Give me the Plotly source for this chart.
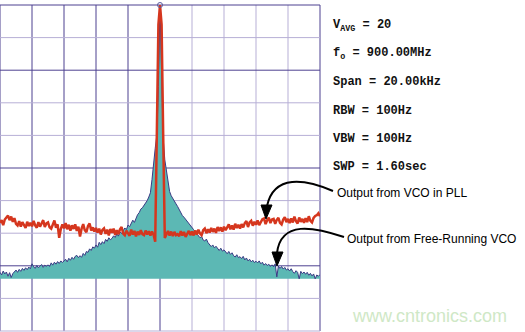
import plotly.graph_objects as go

# ---------------- data ----------------
# frequency offset from carrier (kHz), span 20 kHz, 0.1 kHz resolution
FREQ_START_KHZ = -10.0
FREQ_STEP_KHZ = 0.1
N_POINTS = 201
freq_khz = [round(FREQ_START_KHZ + i * FREQ_STEP_KHZ, 1) for i in range(N_POINTS)]

# Output from VCO in PLL (dB, relative to reference level)
pll_db = [
    -66.8, -66.0, -67.5, -65.8, -65.2, -64.6, -66.0, -64.9, -66.5, -65.4,
    -67.1, -67.6, -66.3, -68.0, -66.6, -67.4, -68.4, -66.5, -67.8, -66.8,
    -67.9, -66.2, -67.6, -68.3, -66.6, -68.0, -66.9, -66.0, -68.1, -67.0,
    -66.7, -68.2, -68.6, -67.0, -66.1, -68.3, -67.3, -71.4, -68.7, -67.3,
    -68.5, -66.9, -68.8, -67.4, -69.2, -67.6, -68.7, -67.3, -69.3, -68.0,
    -71.0, -68.6, -67.2, -69.1, -69.7, -67.8, -67.0, -69.2, -68.2, -69.5,
    -68.4, -69.8, -68.6, -70.4, -69.0, -68.5, -70.2, -68.9, -70.7, -68.7,
    -69.9, -68.6, -70.5, -69.1, -70.3, -68.8, -68.1, -70.1, -70.6, -69.2,
    -70.2, -70.8, -68.9, -70.4, -69.3, -71.0, -69.5, -70.5, -69.1, -70.3,
    -70.6, -69.2, -70.4, -69.4, -70.7, -69.5, -70.5, -72.6, -40.0, -6.0,
    0.0,
    -6.0, -40.0, -71.5, -70.4, -69.3, -70.7, -69.5, -70.9, -69.6, -70.6,
    -70.3, -70.9, -69.4, -70.7, -69.6, -71.1, -70.0, -69.3, -70.6, -69.5,
    -70.7, -69.2, -70.4, -68.9, -70.1, -70.6, -69.1, -68.6, -70.0, -68.8,
    -69.8, -68.4, -69.6, -68.6, -69.9, -68.1, -69.3, -68.2, -69.5, -68.0,
    -69.1, -67.9, -67.3, -68.8, -67.6, -68.9, -67.1, -68.4, -67.4, -68.6,
    -67.2, -68.2, -66.9, -66.3, -68.1, -66.7, -66.2, -67.7, -66.5, -67.4,
    -66.1, -67.5, -66.4, -65.7, -65.5, -67.2, -66.0, -65.2, -66.9, -65.8,
    -65.6, -67.1, -65.9, -65.3, -66.8, -67.3, -65.8, -65.1, -66.6, -65.6,
    -66.9, -65.5, -66.7, -64.9, -66.3, -67.0, -65.2, -66.5, -65.6, -66.8,
    -65.4, -66.6, -64.8, -66.2, -66.7, -65.3, -64.7, -64.5, -63.9, -64.8,
]

# Output from free-running VCO (dB)
free_db = [
    -82.0, -82.8, -81.6, -82.5, -81.9, -83.2, -82.1, -83.6, -82.4, -81.8,
    -81.3, -82.0, -81.1, -81.7, -80.8, -81.4, -80.6, -81.2, -80.4, -80.9,
    -79.4, -80.3, -80.8, -79.9, -80.6, -80.1, -79.6, -80.5, -79.8, -80.2,
    -79.7, -80.2, -79.1, -79.8, -78.9, -79.5, -78.7, -79.3, -78.5, -79.0,
    -78.6, -78.0, -78.8, -77.7, -78.3, -77.4, -78.0, -77.1, -76.8, -77.5,
    -76.9, -77.4, -76.2, -76.8, -75.6, -75.9, -74.8, -75.3, -74.2, -74.6,
    -73.6, -74.3, -72.8, -73.5, -72.6, -73.2, -71.9, -72.5, -71.4, -72.0,
    -71.6, -70.8, -71.3, -70.2, -70.9, -69.6, -70.1, -69.0, -68.4, -68.9,
    -67.5, -68.0, -66.8, -66.0, -66.7, -65.2, -64.3, -63.7, -62.6, -62.2,
    -61.4, -61.0, -60.0, -58.9, -57.6, -53.5, -47.5, -44.0, -40.0, -25.0,
    0.0,
    -25.0, -41.0, -47.5, -51.0, -55.0, -57.2, -58.5, -59.5, -60.5, -61.0,
    -61.8, -62.9, -63.5, -64.6, -65.1, -65.8, -66.3, -67.2, -67.6, -68.2,
    -68.9, -69.5, -70.2, -70.6, -71.4, -71.0, -72.1, -72.4, -71.8, -72.9,
    -73.4, -74.1, -73.6, -74.5, -74.0, -74.8, -75.3, -74.6, -75.5, -75.1,
    -75.8, -76.3, -75.6, -76.5, -76.0, -76.9, -77.3, -76.6, -77.5, -77.2,
    -77.8, -77.1, -78.2, -77.6, -78.5, -78.0, -78.8, -78.3, -79.0, -78.6,
    -79.1, -78.5, -79.4, -78.9, -79.8, -79.3, -79.9, -79.5, -80.2, -79.7,
    -80.3, -79.4, -83.4, -80.1, -80.8, -80.2, -81.0, -80.5, -81.3, -80.9,
    -81.6, -80.9, -81.8, -82.3, -81.5, -82.0, -84.0, -81.7, -82.4, -81.9,
    -82.6, -82.0, -82.9, -82.3, -83.1, -82.5, -84.0, -82.8, -83.2, -82.7,
]

FLOOR_DB = -84.0
floor_db = [FLOOR_DB] * N_POINTS

settings_lines = [
    "V<sub>AVG</sub> = 20",
    "f<sub>o</sub> = 900.00MHz",
    "Span = 20.00kHz",
    "RBW = 100Hz",
    "VBW = 100Hz",
    "SWP = 1.60sec",
]
label_pll = "Output from VCO in PLL"
label_free = "Output from Free-Running VCO"
watermark = "www.cntronics.com"

# ---------------- layout geometry ----------------
W, H = 525, 332
ML, MR, MT, MB = 0, 205, 5, 1
PW, PH = W - ML - MR, H - MT - MB


def px(x):
    return (x - ML) / PW


def py(y):
    return 1 - (y - MT) / PH


def path(cmds):
    out = []
    for c in cmds:
        if isinstance(c, str):
            out.append(c)
        else:
            out.append(f"{px(c[0]):.5f},{py(c[1]):.5f}")
    return " ".join(out)


fig = go.Figure()

fig.add_trace(go.Scatter(
    x=freq_khz, y=floor_db, mode="lines",
    line=dict(width=0, color="rgba(0,0,0,0)"),
    hoverinfo="skip", showlegend=False,
))
fig.add_trace(go.Scatter(
    x=freq_khz, y=free_db, mode="lines",
    fill="tonexty", fillcolor="#5cb8b4",
    line=dict(color="#3a3a84", width=1),
    showlegend=False,
))
fig.add_trace(go.Scatter(
    x=freq_khz, y=pll_db, mode="lines",
    line=dict(color="#d5361e", width=2.5),
    showlegend=False,
))
peak_i = pll_db.index(max(pll_db))
fig.add_trace(go.Scatter(
    x=[freq_khz[peak_i]], y=[pll_db[peak_i]], mode="markers",
    marker=dict(symbol="circle-open", size=5, color="#5a5a9e", line=dict(width=1)),
    showlegend=False, cliponaxis=False,
))

# grid (10 x 10 divisions), dark and light lines as in the reference
DARK = "#4d4190"
LIGHT = "#b7afd6"
v_dark = {0, 1, 2, 3, 4, 5, 10}
h_dark = {0, 2, 5, 8}
shapes = []
for i in range(11):
    shapes.append(dict(type="line", xref="paper", yref="paper",
                       x0=i / 10, x1=i / 10, y0=0, y1=1, layer="below",
                       line=dict(color=DARK if i in v_dark else LIGHT, width=1)))
for j in range(11):
    shapes.append(dict(type="line", xref="paper", yref="paper",
                       x0=0, x1=1, y0=1 - j / 10, y1=1 - j / 10, layer="below",
                       line=dict(color=DARK if j in h_dark else LIGHT, width=1)))

# curved arrows
shapes.append(dict(type="path", xref="paper", yref="paper",
                   path=path(["M", (333, 191), "C", (305, 179), (274, 174), (267, 206)]),
                   line=dict(color="black", width=2)))
shapes.append(dict(type="path", xref="paper", yref="paper",
                   path=path(["M", (261, 205), "L", (272, 205), "L", (266, 219), "Z"]),
                   fillcolor="black", line=dict(color="black", width=1)))
shapes.append(dict(type="path", xref="paper", yref="paper",
                   path=path(["M", (344, 237), "C", (314, 227), (281, 220), (277, 253)]),
                   line=dict(color="black", width=2)))
shapes.append(dict(type="path", xref="paper", yref="paper",
                   path=path(["M", (272, 252), "L", (283, 252), "L", (277, 266), "Z"]),
                   fillcolor="black", line=dict(color="black", width=1)))

annotations = []
row_y = [26, 54, 82, 111, 139, 167]
for txt, yy in zip(settings_lines, row_y):
    annotations.append(dict(text=f"<b>{txt}</b>", xref="paper", yref="paper",
                            x=px(331), y=py(yy), xanchor="left", yanchor="middle",
                            showarrow=False,
                            font=dict(family="Liberation Mono", size=12, color="#111111")))
annotations.append(dict(text=label_pll, xref="paper", yref="paper",
                        x=px(335), y=py(193), xanchor="left", yanchor="middle",
                        showarrow=False,
                        font=dict(family="Liberation Sans", size=12, color="black")))
annotations.append(dict(text=label_free, xref="paper", yref="paper",
                        x=px(345), y=py(239), xanchor="left", yanchor="middle",
                        showarrow=False,
                        font=dict(family="Liberation Sans", size=12, color="black")))
annotations.append(dict(text=watermark, xref="paper", yref="paper",
                        x=px(350), y=py(316), xanchor="left", yanchor="middle",
                        showarrow=False,
                        font=dict(family="Liberation Sans", size=18, color="#cfe8c6")))

fig.update_layout(
    width=W, height=H,
    margin=dict(l=ML, r=MR, t=MT, b=MB, pad=0),
    paper_bgcolor="white", plot_bgcolor="white",
    showlegend=False,
    xaxis=dict(range=[-10, 10], showgrid=False, zeroline=False,
               showticklabels=False, ticks="", showline=False),
    yaxis=dict(range=[-100, 0], showgrid=False, zeroline=False,
               showticklabels=False, ticks="", showline=False),
    shapes=shapes,
    annotations=annotations,
)

fig.write_html("out.html")
